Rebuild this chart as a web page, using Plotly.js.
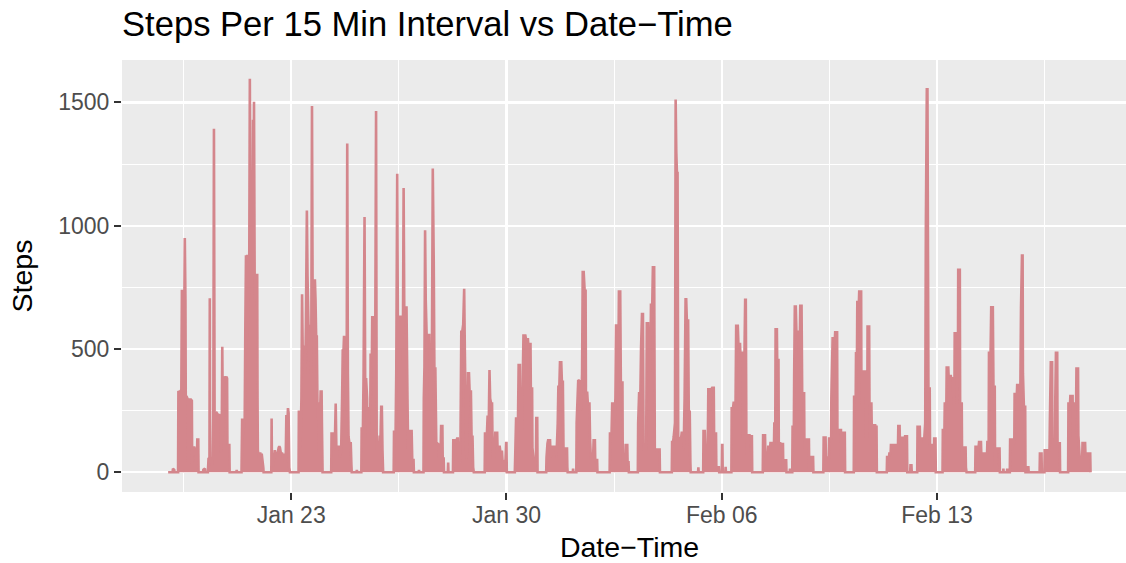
<!DOCTYPE html>
<html>
<head>
<meta charset="utf-8">
<script src="https://cdn.plot.ly/plotly-3.0.1.min.js"></script>
<style>html,body{margin:0;padding:0;overflow:hidden;background:#fff}</style>
</head>
<body>
<div id="chart"></div>
<script>
// ---- data (steps per 15-min interval) ----
const dataYear = 2018;
const dayLabels = ['01-19','01-20','01-21','01-22','01-23','01-24','01-25','01-26','01-27','01-28',
  '01-29','01-30','01-31','02-01','02-02','02-03','02-04','02-05','02-06','02-07',
  '02-08','02-09','02-10','02-11','02-12','02-13','02-14','02-15','02-16','02-17'];
const dayReadings = [
  "00:00 0, 03:30 0, 03:45 15, 04:45 10, 05:00 0, 07:45 0, 08:00 330, 09:00 320, 10:00 333, 10:15 300, 10:45 740, 11:15 500, 11:45 330, 12:15 400, 13:00 950, 13:30 700, 13:45 306, 14:30 306, 15:00 300, 15:15 40, 16:15 40, 16:45 295, 17:45 295, 18:30 290, 18:45 40, 19:30 100, 20:30 100, 21:00 90, 21:30 50, 22:30 50, 22:45 133, 23:30 133, 23:45 0",
  "00:00 0, 03:15 0, 03:30 10, 04:45 15, 05:00 0, 07:00 0, 07:30 55, 08:15 60, 08:30 706, 08:45 60, 10:00 30, 10:45 40, 11:15 230, 11:45 1393, 12:15 232, 13:00 232, 14:00 240, 15:00 232, 16:00 232, 17:00 220, 17:15 80, 17:45 100, 18:15 509, 18:45 150, 19:30 388, 20:30 380, 21:30 388, 22:00 380, 22:15 110, 23:45 110",
  "00:00 0, 01:30 0, 05:15 0, 05:30 10, 05:45 0, 09:15 0, 09:45 218, 10:15 150, 10:45 218, 11:15 180, 11:45 218, 12:15 600, 12:45 880, 13:15 500, 13:45 882, 14:15 600, 14:45 700, 15:15 800, 15:45 1596, 16:15 900, 16:45 850, 17:15 700, 17:45 880, 18:15 1430, 18:30 900, 19:00 1503, 19:30 800, 20:00 700, 20:30 800, 21:00 800, 21:30 800, 21:45 300, 22:00 90, 22:45 62, 23:30 62, 23:45 76",
  "00:00 76, 00:45 60, 01:00 76, 02:15 20, 02:30 0, 08:30 0, 08:45 218, 09:00 30, 10:00 30, 11:15 90, 12:00 60, 12:45 60, 14:15 100, 14:45 105, 15:15 100, 16:00 76, 17:00 76, 17:45 60, 18:30 76, 19:00 40, 19:45 60, 20:15 232, 20:45 150, 21:30 260, 22:00 240, 22:30 20, 23:00 0",
  "00:00 0, 05:45 0, 06:00 245, 07:00 245, 07:15 100, 08:00 300, 08:30 722, 09:00 500, 09:30 509, 10:30 509, 11:00 400, 11:30 600, 12:15 1062, 12:45 800, 13:30 598, 14:00 450, 14:45 598, 15:15 400, 15:45 598, 16:15 1485, 16:45 700, 17:15 598, 17:45 550, 18:30 783, 19:00 700, 19:30 550, 20:00 550, 20:30 279, 21:00 279, 21:30 89, 22:00 89, 22:30 225, 23:00 327, 23:45 327",
  "00:00 200, 00:30 0, 07:15 0, 07:30 157, 09:15 157, 09:30 90, 10:00 100, 10:45 279, 11:15 103, 13:30 103, 14:00 60, 15:00 90, 15:45 300, 16:15 499, 16:45 480, 17:15 553, 18:15 520, 18:45 300, 19:15 250, 19:45 1333, 20:15 400, 20:45 144, 21:30 117, 22:30 117, 23:00 30, 23:15 0",
  "00:00 0, 03:00 0, 03:15 10, 03:30 0, 06:45 0, 07:00 177, 08:00 177, 08:30 400, 09:15 1035, 09:45 377, 10:30 377, 11:15 300, 11:30 144, 12:30 144, 13:00 259, 13:45 259, 14:00 476, 15:00 476, 15:15 629, 16:15 629, 16:45 300, 17:30 400, 18:15 1465, 18:45 96, 19:30 96, 20:30 96, 21:00 144, 21:45 144, 22:15 266, 22:45 266, 23:15 89, 23:45 0",
  "00:00 0, 08:00 0, 08:15 164, 09:30 164, 10:00 400, 10:45 1211, 11:15 600, 12:00 442, 12:45 442, 13:15 631, 14:15 631, 14:45 500, 15:15 600, 15:45 1153, 16:15 668, 18:00 668, 18:45 300, 19:15 100, 20:00 100, 20:45 167, 22:00 167, 22:30 50, 23:30 50, 23:45 0",
  "00:00 0, 03:30 0, 03:45 10, 04:00 0, 07:15 0, 07:30 300, 08:00 428, 08:30 981, 09:00 700, 09:45 550, 10:30 550, 11:15 557, 11:45 557, 12:15 300, 13:00 279, 13:45 400, 14:30 1232, 15:15 855, 15:45 421, 16:30 421, 17:15 117, 18:00 117, 18:45 114, 19:30 60, 20:30 60, 21:00 187, 22:00 187, 22:15 56, 23:00 56, 23:15 0",
  "00:00 0, 02:15 0, 02:30 39, 02:45 0, 06:15 0, 06:30 130, 07:30 130, 08:30 120, 09:30 137, 10:00 137, 10:30 50, 12:00 40, 12:45 570, 13:30 570, 14:15 600, 15:00 744, 15:30 500, 16:00 300, 16:45 50, 17:30 100, 18:00 401, 18:45 401, 19:15 327, 20:15 327, 20:45 144, 21:30 144, 22:00 20, 22:30 0",
  "00:00 0, 07:00 0, 07:15 157, 08:45 157, 09:15 225, 10:15 225, 10:45 415, 11:15 300, 12:00 279, 12:45 279, 13:15 60, 14:30 60, 15:15 160, 16:45 160, 17:00 103, 18:45 103, 19:15 83, 20:30 83, 21:00 40, 22:00 40, 23:15 50, 23:45 119",
  "00:00 119, 00:15 0, 06:30 0, 06:45 50, 07:30 218, 08:15 218, 08:45 100, 09:30 435, 10:30 435, 10:45 177, 12:00 177, 12:30 300, 13:15 554, 14:45 554, 15:15 539, 16:45 539, 17:00 520, 18:45 520, 19:00 340, 20:00 340, 20:15 100, 21:00 60, 21:30 55, 23:00 55, 23:15 220, 23:45 220",
  "00:00 220, 00:15 0, 07:00 0, 07:15 60, 08:00 117, 08:30 130, 10:00 130, 10:30 60, 11:30 103, 14:30 103, 15:00 60, 16:00 200, 16:30 347, 17:15 347, 17:45 446, 18:45 446, 19:15 367, 20:00 367, 20:30 96, 23:15 96, 23:30 20, 23:45 0",
  "00:00 0, 03:45 0, 04:00 15, 04:15 0, 06:30 0, 06:45 200, 08:00 374, 09:45 367, 10:15 250, 11:00 400, 11:30 812, 12:15 812, 13:00 736, 13:45 736, 14:00 322, 15:00 322, 15:30 279, 16:45 279, 17:15 130, 18:00 40, 19:30 40, 20:00 130, 21:00 130, 21:15 50, 22:45 50, 23:00 0",
  "00:00 0, 08:30 0, 08:45 157, 10:00 157, 10:30 279, 12:00 279, 12:15 200, 13:00 300, 13:30 595, 14:30 595, 14:45 300, 15:15 400, 15:45 733, 16:45 733, 17:15 364, 18:30 364, 18:45 40, 20:30 40, 21:00 110, 22:15 110, 22:30 40, 23:15 40, 23:30 0",
  "00:00 0, 06:30 0, 06:45 200, 07:30 320, 08:30 320, 09:00 500, 09:45 642, 10:30 642, 11:00 89, 13:00 89, 13:30 604, 14:30 604, 15:00 415, 16:15 415, 16:45 679, 17:45 679, 18:15 831, 19:15 831, 19:45 89, 21:00 92, 23:30 92, 23:45 0",
  "00:00 0, 09:00 0, 09:15 123, 10:00 123, 10:30 144, 11:30 200, 12:00 1512, 12:30 1300, 13:00 1214, 13:30 1214, 14:00 144, 14:45 137, 16:15 137, 16:45 160, 17:45 160, 18:15 89, 19:00 300, 19:45 702, 20:15 702, 20:45 615, 21:45 615, 22:15 245, 23:00 245, 23:30 40, 23:45 0",
  "00:00 0, 05:30 0, 05:45 20, 06:00 0, 09:30 0, 09:45 167, 10:45 167, 11:15 76, 13:00 76, 13:30 337, 14:30 337, 15:00 250, 15:30 333, 16:30 343, 17:45 343, 18:00 157, 19:30 157, 19:45 20, 21:45 20, 22:00 0",
  "00:00 0, 00:15 110, 00:30 110, 00:45 0, 02:45 0, 03:00 22, 03:15 0, 07:30 0, 07:45 259, 08:45 259, 09:15 282, 10:45 282, 11:15 594, 12:30 594, 13:00 520, 14:15 520, 14:30 485, 16:00 485, 16:15 144, 17:30 144, 17:45 500, 18:15 699, 18:45 699, 19:15 76, 20:15 76, 20:30 150, 21:45 150, 22:00 146, 23:30 146, 23:45 0",
  "00:00 0, 08:00 0, 08:15 150, 09:45 150, 10:00 79, 12:00 79, 12:15 103, 13:45 103, 14:00 119, 16:45 119, 17:00 198, 17:45 198, 18:00 580, 19:00 580, 19:15 455, 20:15 455, 20:30 117, 21:45 117, 22:00 114, 23:45 114",
  "00:00 20, 01:00 20, 01:15 49, 02:15 49, 02:30 0, 05:00 0, 05:15 15, 05:30 0, 07:00 0, 07:15 184, 08:15 184, 08:30 400, 09:00 672, 09:45 672, 10:15 570, 11:30 570, 12:00 482, 12:45 482, 13:15 675, 14:15 675, 14:45 320, 16:15 320, 16:30 100, 18:00 100, 18:15 133, 20:00 133, 20:15 20, 21:45 20, 22:00 62, 23:15 62, 23:30 0",
  "00:00 0, 07:15 0, 07:30 141, 09:00 141, 09:15 60, 11:30 60, 11:45 137, 13:15 137, 13:30 300, 14:30 543, 16:15 543, 16:30 568, 18:00 568, 18:15 164, 19:45 164, 20:00 171, 21:00 171, 21:15 60, 22:45 60, 23:00 160, 23:45 160",
  "00:00 160, 00:15 0, 07:00 0, 07:15 306, 08:30 306, 08:45 482, 09:30 482, 09:45 690, 11:00 690, 11:15 733, 12:45 733, 13:00 279, 14:15 279, 14:30 408, 16:15 408, 16:30 144, 17:30 144, 17:45 591, 19:00 591, 19:15 279, 20:45 279, 21:00 191, 23:45 191",
  "00:00 184, 00:45 184, 01:00 0, 08:45 0, 09:00 62, 10:30 62, 10:45 76, 11:45 76, 12:00 110, 17:30 110, 17:45 187, 18:45 187, 19:00 123, 20:00 123, 20:15 140, 22:45 140, 23:00 146, 23:45 146",
  "00:00 146, 00:30 146, 00:45 0, 03:00 0, 03:15 28, 04:00 28, 04:15 0, 08:30 0, 08:45 184, 10:30 184, 10:45 123, 11:45 123, 12:00 137, 14:00 137, 14:45 200, 15:15 1000, 16:00 1553, 16:30 1553, 16:45 1140, 17:15 340, 18:15 340, 18:30 110, 19:45 110, 20:00 62, 21:30 62, 21:45 137, 22:45 137, 23:00 0",
  "00:00 0, 04:15 0, 04:30 171, 05:45 171, 06:00 279, 07:15 279, 07:30 425, 08:45 425, 09:00 390, 10:45 390, 11:00 381, 12:30 381, 12:45 279, 13:30 279, 13:45 564, 15:00 564, 15:15 401, 16:15 401, 16:30 821, 17:45 821, 18:00 279, 19:15 279, 19:30 55, 20:45 55, 21:00 100, 22:15 100, 22:30 20, 23:00 0",
  "00:00 0, 05:45 0, 06:00 103, 07:15 103, 07:30 50, 08:45 123, 10:15 123, 10:30 76, 15:00 76, 15:15 123, 16:15 123, 16:30 485, 17:45 485, 18:15 669, 19:30 669, 20:00 347, 21:00 347, 21:15 28, 22:15 28, 22:30 96, 23:45 96",
  "00:00 96, 00:45 96, 01:00 0, 03:30 0, 03:45 15, 04:00 0, 06:30 0, 06:45 15, 07:00 0, 08:45 0, 09:00 133, 10:30 133, 10:45 100, 12:15 120, 12:30 317, 14:15 317, 14:30 354, 17:00 354, 17:30 668, 18:15 879, 18:45 879, 19:00 400, 19:45 266, 20:45 266, 21:00 0, 22:30 0, 22:45 20, 23:15 20, 23:30 0",
  "00:00 0, 08:00 0, 08:15 76, 09:30 76, 09:45 0, 11:45 0, 12:00 89, 15:45 89, 16:00 200, 16:45 446, 17:45 446, 18:00 120, 20:00 120, 20:15 300, 20:45 485, 21:45 485, 22:00 117, 23:45 117",
  "00:00 0, 06:15 0, 06:30 279, 07:45 279, 08:00 309, 09:45 309, 10:00 150, 11:15 150, 11:30 279, 12:30 279, 12:45 421, 14:00 421, 14:15 150, 15:15 62, 17:15 62, 17:30 119, 19:30 119, 19:45 76, 23:30 76, 23:45 0"
];
const xTickDates = ['01-23','01-30','02-06','02-13'];
const xTickLabels = ['Jan 23','Jan 30','Feb 06','Feb 13'];
const xMinorDates = ['01-19 12:00','01-26 12:00','02-02 12:00','02-09 12:00','02-16 12:00'];
const yTickValues = [0, 500, 1000, 1500];
const yTickLabels = ['0', '500', '1000', '1500'];
const yMinorValues = [250, 750, 1250];

// ---- build series ----
const times = [], steps = [];
dayLabels.forEach((d, i) => {
  dayReadings[i].split(',').forEach(tok => {
    const [hm, v] = tok.trim().split(' ');
    times.push(`${dataYear}-${d} ${hm}`);
    steps.push(Number(v));
  });
});

const lineColor = '#D4868C';
const font = 'Liberation Sans, Arial, Helvetica, sans-serif';

const trace = {
  x: times, y: steps, type: 'scatter', mode: 'lines',
  line: {color: lineColor, width: 2.6, simplify: false},
  fill: 'tozeroy', fillcolor: lineColor,
  hoverinfo: 'x+y'
};

const layout = {
  width: 1137, height: 563,
  margin: {l: 122, r: 0, t: 60, b: 71, pad: 0},
  paper_bgcolor: '#FFFFFF', plot_bgcolor: '#EBEBEB',
  showlegend: false,
  font: {family: font, color: '#4D4D4D'},
  title: {
    text: 'Steps Per 15 Min Interval vs Date\u2212Time',
    font: {family: font, size: 34.6, color: '#000000'},
    xref: 'paper', x: 0, xanchor: 'left',
    yref: 'container', y: 1 - 24/563, yanchor: 'middle'
  },
  xaxis: {
    type: 'date',
    range: [`${dataYear}-01-17 12:00`, `${dataYear}-02-19 12:00`],
    tickmode: 'array',
    tickvals: xTickDates.map(d => `${dataYear}-${d}`),
    ticktext: xTickLabels,
    ticks: 'outside', ticklen: 7, tickwidth: 2, tickcolor: '#333333',
    ticklabelstandoff: -5,
    tickfont: {family: font, size: 23, color: '#4D4D4D'},
    showgrid: true, gridcolor: '#FFFFFF', gridwidth: 2.2,
    minor: {tickmode: 'array', tickvals: xMinorDates.map(d => `${dataYear}-${d}`),
            showgrid: true, gridcolor: '#FFFFFF', gridwidth: 1.1, ticks: ''},
    zeroline: false, showline: false,
    title: {text: 'Date\u2212Time', font: {family: font, size: 28.5, color: '#000000'}, standoff: 15}
  },
  yaxis: {
    range: [-80, 1672],
    tickmode: 'array', tickvals: yTickValues, ticktext: yTickLabels,
    ticks: 'outside', ticklen: 7, tickwidth: 2, tickcolor: '#333333',
    tickfont: {family: font, size: 23, color: '#4D4D4D'},
    showgrid: true, gridcolor: '#FFFFFF', gridwidth: 2.2,
    minor: {tickmode: 'array', tickvals: yMinorValues,
            showgrid: true, gridcolor: '#FFFFFF', gridwidth: 1.1, ticks: ''},
    zeroline: false, showline: false,
    title: {text: 'Steps', font: {family: font, size: 28.5, color: '#000000'}, standoff: 17}
  }
};

Plotly.newPlot('chart', [trace], layout, {displayModeBar: false, staticPlot: true});
</script>
</body>
</html>
